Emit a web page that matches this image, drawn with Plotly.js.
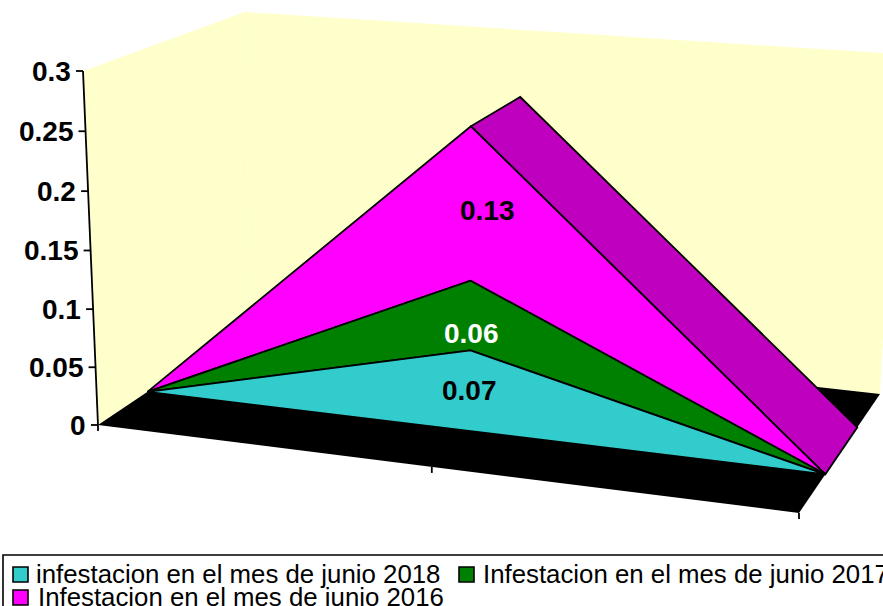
<!DOCTYPE html>
<html>
<head>
<meta charset="utf-8">
<script src="https://cdn.plot.ly/plotly-3.0.1.min.js"></script>
<style>html,body{margin:0;padding:0;background:#fff;overflow:hidden}#chart{width:883px;height:606px}</style>
</head>
<body>
<div id="chart"></div>
<script>
// ---- data ----
const categories = ['a', 'b', 'c'];
const series2018 = [0, 0.07, 0];
const series2017 = [0, 0.06, 0];
const series2016 = [0, 0.13, 0];
const seriesNames = ['infestacion en el mes de junio 2018', 'Infestacion en el mes de junio 2017', 'Infestacion en el mes de junio 2016'];
const seriesColors = ['#33CCCC', '#008000', '#FF00FF'];
const valueTicks = [0, 0.05, 0.1, 0.15, 0.2, 0.25, 0.3];
const valueMax = 0.3;

// ---- oblique view of the 3D box ----
const FLB = [98, 425], FRB = [799, 513], BLB = [250, 323], BRB = [880, 394];
const FLT = [83, 71], FRT = [812, 133], BLT = [245, 12], BRT = [898, 54];
const bandFront = 0.325, bandBack = 0.72, persp = 1.10;
const lerp = (a, b, t) => [a[0] + (b[0] - a[0]) * t, a[1] + (b[1] - a[1]) * t];
function project(i, v, d) {
  const t0 = i / (categories.length - 1);
  const t = t0 / (t0 + persp * (1 - t0));
  const s0 = v / valueMax;
  const s = s0 - 0.007 * Math.sin(Math.PI * s0);
  const bottom = lerp(lerp(FLB, FRB, t), lerp(BLB, BRB, t), d);
  const top = lerp(lerp(FLT, FRT, t), lerp(BLT, BRT, t), d);
  return lerp(bottom, top, s);
}
function poly(pts, color, lineW, name) {
  return { type: 'scatter', mode: lineW ? 'lines' : 'none', x: pts.map(p => p[0]).concat(pts[0][0]), y: pts.map(p => p[1]).concat(pts[0][1]),
    fill: 'toself', fillcolor: color, line: { color: '#000', width: lineW || 0 }, showlegend: false, hoverinfo: 'skip', name: name || '' };
}
const wall = '#FFFFCC';
const edge = 1.8;
const traces = [];
traces.push(poly([project(0, 0, 0), project(0, valueMax, 0), project(0, valueMax, 1), project(0, 0, 1)], wall));
traces.push(poly([project(0, 0, 1), project(0, valueMax, 1), project(2, valueMax, 1), project(2, 0, 1)], wall));
traces.push(poly([project(0, 0, 0), project(0, 0, 1), project(2, 0, 1), project(2, 0, 0)], '#000'));

// stacked series
const stack = [series2018, series2017, series2016];
const idx = categories.map((_, i) => i);
let base = idx.map(() => 0);
const layers = stack.map(s => { const lo = base; const hi = lo.map((b, i) => b + s[i]); base = hi; return { lo, hi }; });
const topStack = layers[2].hi;
// top face of the highest series, falling side
traces.push(poly([project(1, topStack[1], bandFront), project(1, topStack[1], bandBack), project(2, topStack[2], bandBack), project(2, topStack[2], bandFront)], '#BF00BF', edge));
for (let k = 2; k >= 0; k--) {
  const up = idx.map(i => project(i, layers[k].hi[i], bandFront));
  const dn = idx.slice().reverse().map(i => project(i, layers[k].lo[i], bandFront));
  traces.push(poly(up.concat(dn), seriesColors[k], edge, seriesNames[k]));
}

// value axis line and ticks
const ax = [], ay = [];
valueTicks.forEach(v => { const p = project(0, v, 0); ax.push(p[0] - 7, p[0], null); ay.push(p[1], p[1], null); });
const a0 = project(0, 0, 0), a1 = project(0, valueMax, 0);
ax.push(a0[0], a1[0], null); ay.push(a0[1], a1[1], null);
idx.forEach(i => { const p = project(i, 0, 0); ax.push(p[0], p[0], null); ay.push(p[1], p[1] + 6, null); });
traces.push({ type: 'scatter', mode: 'lines', x: ax, y: ay, line: { color: '#000', width: edge }, showlegend: false, hoverinfo: 'skip', connectgaps: false });

const font = 'Liberation Sans, Arial, sans-serif';
const annotations = [];
valueTicks.forEach(v => { const p = project(0, v, 0);
  annotations.push({ x: p[0] - 10, y: p[1], xref: 'x', yref: 'y', text: '<b>' + v + '</b>', showarrow: false, xanchor: 'right', yanchor: 'middle',
    font: { family: font, size: 28, color: '#000' } }); });
// data labels
const labelPos = [[469, 390, '#000'], [471, 333, '#fff'], [487, 210, '#000']];
stack.forEach((s, k) => annotations.push({ x: labelPos[k][0], y: labelPos[k][1], xref: 'x', yref: 'y', text: '<b>' + s[1] + '</b>', showarrow: false,
  font: { family: font, size: 28, color: labelPos[k][2] } }));

// legend (tight two-row box, cut by the page edge as in the picture)
const shapes = [{ type: 'rect', xref: 'x', yref: 'y', x0: 3, x1: 900, y0: 555, y1: 620, line: { color: '#000', width: 1.6 }, fillcolor: 'rgba(0,0,0,0)' }];
const legendPos = [[13, 567, 34], [459, 567, 481], [13, 590, 36]];
legendPos.forEach((q, k) => {
  shapes.push({ type: 'rect', xref: 'x', yref: 'y', x0: q[0], x1: q[0] + 15, y0: q[1], y1: q[1] + 15, fillcolor: seriesColors[k], line: { color: '#000', width: 1.6 } });
  annotations.push({ x: q[2], y: q[1] + 7, xref: 'x', yref: 'y', text: seriesNames[k], showarrow: false, xanchor: 'left', yanchor: 'middle',
    font: { family: font, size: 25.8, color: '#000' } });
});

const hidden = { visible: false, fixedrange: true };
Plotly.newPlot('chart', traces, {
  width: 883, height: 606, margin: { l: 0, r: 0, t: 0, b: 0 }, paper_bgcolor: '#fff', plot_bgcolor: '#fff',
  xaxis: Object.assign({ range: [0, 883] }, hidden), yaxis: Object.assign({ range: [606, 0] }, hidden),
  shapes, annotations, showlegend: false
}, { displayModeBar: false, staticPlot: true });
</script>
</body>
</html>
